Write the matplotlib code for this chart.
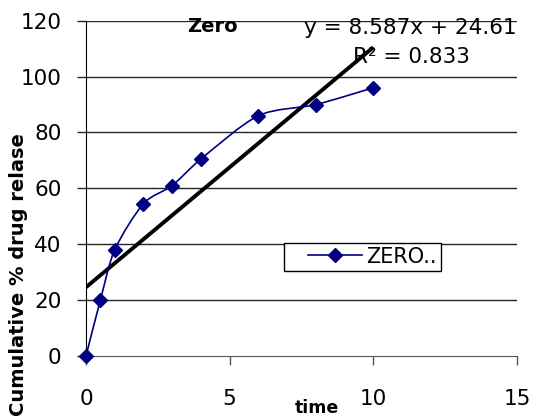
import numpy as np
import matplotlib
matplotlib.use("Agg")
import matplotlib.pyplot as plt
from matplotlib.path import Path
from matplotlib.patches import PathPatch
from matplotlib.lines import Line2D
from matplotlib.legend_handler import HandlerLine2D

# data
time = [0, 0.5, 1, 2, 3, 4, 6, 8, 10]
release = [0, 20, 38, 54.5, 61, 70.5, 86, 90, 96]
slope = 8.587
intercept = 24.61
r2 = 0.833
xticks = [0, 5, 10, 15]
yticks = [0, 20, 40, 60, 80, 100, 120]

navy = "#000080"
grid_c = "#262626"


def smooth_path(xs, ys):
    # Excel-style smoothed line: cubic bezier segments through the points
    pts = np.column_stack([xs, ys]).astype(float)
    n = len(pts)
    verts = [pts[0]]
    codes = [Path.MOVETO]
    for i in range(n - 1):
        p0 = pts[i - 1] if i > 0 else pts[i]
        p1, p2 = pts[i], pts[i + 1]
        p3 = pts[i + 2] if i + 2 < n else pts[i + 1]
        c1 = p1 + (p2 - p0) / 7.0
        c2 = p2 - (p3 - p1) / 7.0
        verts += [c1, c2, p2]
        codes += [Path.CURVE4] * 3
    return Path(verts, codes)


fig = plt.figure(figsize=(5.34, 4.19), dpi=100)
ax = fig.add_axes([86 / 534, 1 - 356 / 419, 431 / 534, 335.3 / 419])

ax.set_xlim(0, 15)
ax.set_ylim(0, 120)

# horizontal gridlines
for yv in yticks[1:]:
    ax.axhline(yv, color=grid_c, lw=1.0, zorder=1)

# trendline
tx = np.array([min(time), max(time)])
ax.plot(tx, slope * tx + intercept, color="black", lw=2.8, zorder=3,
        solid_capstyle="butt")

# smoothed data series
ax.add_patch(PathPatch(smooth_path(time, release), facecolor="none",
                       edgecolor=navy, lw=1.2, zorder=4, clip_on=False))
ax.plot(time, release, ls="none", marker="D", ms=6.8, color=navy,
        zorder=5, clip_on=False)

for s in ["top", "right"]:
    ax.spines[s].set_visible(False)
ax.spines["left"].set_color("black")
ax.spines["bottom"].set_color("#555555")

ax.set_xticks(xticks)
ax.set_yticks(yticks)
ax.tick_params(axis="y", direction="out", length=6.5, width=1.0,
               color=grid_c, pad=11, labelsize=15.5)
ax.tick_params(axis="x", direction="out", length=6.5, width=1.0,
               color="#555555", pad=17, labelsize=15.5)

# legend
h = Line2D([], [], color=navy, lw=1.2, marker="D", ms=6.8)
leg = ax.legend([h], ["ZERO.."], loc="lower left",
                bbox_to_anchor=(0.459, 0.254), fontsize=15,
                handlelength=3.55, handletextpad=0.2, borderpad=0.2,
                borderaxespad=0, fancybox=False, framealpha=1,
                handler_map={h: HandlerLine2D(xpad=0.96)})
leg.get_frame().set_edgecolor("black")
leg.get_frame().set_linewidth(1.0)

fig.text(212 / 534, 1 - 27 / 419, "Zero", ha="center", va="center",
         fontsize=14, fontweight="bold")
fig.text(410 / 534, 1 - 28 / 419, f"y = {slope}x + {intercept}",
         ha="center", va="center", fontsize=15.5)
fig.text(411 / 534, 1 - 57 / 419, f"R² = {r2}",
         ha="center", va="center", fontsize=15.5)
fig.text(317 / 534, 1 - 399 / 419, "time", ha="center", va="top",
         fontsize=12.5, fontweight="bold")
fig.text(19 / 534, 1 - 133 / 419, "Cumulative % drug relase", rotation=90,
         ha="center", va="top", fontsize=14, fontweight="bold")

fig.savefig("out.png", dpi=100)
